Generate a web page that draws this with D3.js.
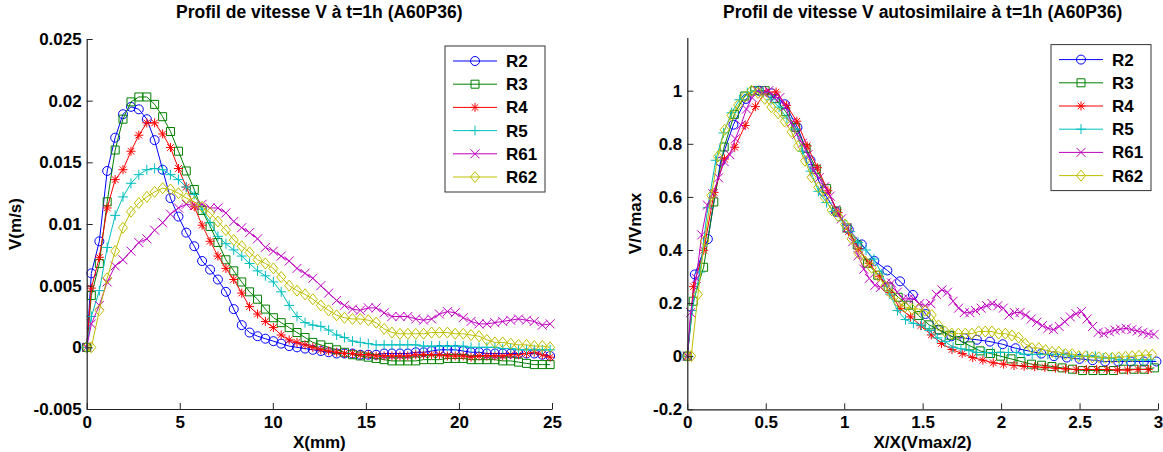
<!DOCTYPE html>
<html><head><meta charset="utf-8">
<script src="https://cdn.jsdelivr.net/npm/d3@7"></script>
<style>
html,body{margin:0;padding:0;background:#fff;}
svg{display:block;}
text{font-family:"Liberation Sans",Arial,Helvetica,sans-serif;font-weight:bold;fill:#000;}
</style></head><body>
<svg id="chart" width="1163" height="452"></svg>
<script>
// ---------- shared series description ----------
const seriesNames   = ["R2", "R3", "R4", "R5", "R61", "R62"];
const seriesColors  = ["#0000ff", "#008000", "#ff0000", "#00bfbf", "#bf00bf", "#bfbf00"];
const seriesMarkers = ["circle", "square", "star", "plus", "cross", "diamond"];

// ---------- left panel : V (m/s) vs X (mm) ----------
const leftTitle  = "Profil de vitesse V à t=1h (A60P36)";
const leftXLabel = "X(mm)";
const leftYLabel = "V(m/s)";
const leftXTicks = [0, 5, 10, 15, 20, 25];
const leftYTicks = [-0.005, 0, 0.005, 0.01, 0.015, 0.02, 0.025];

const xMm = [0,0.25,0.68,1.1,1.53,1.95,2.38,2.8,3.23,3.65,4.08,4.5,4.93,5.35,5.78,6.2,6.63,7.05,7.48,7.9,8.33,8.75,9.18,9.6,10.03,10.45,10.88,11.3,11.73,12.15,12.58,13.0,13.43,13.85,14.28,14.7,15.13,15.55,15.98,16.4,16.83,17.25,17.68,18.1,18.53,18.95,19.38,19.8,20.23,20.65,21.08,21.5,21.93,22.35,22.78,23.2,23.63,24.05,24.48,24.9];

const vR2 = [0,0.0060,0.0086,0.0143,0.0170,0.0189,0.0195,0.0193,0.0185,0.0168,
  0.0144,0.0121,0.0106,0.0093,0.0082,0.0070,0.0063,0.0055,0.0045,0.0031,
  0.0018,0.0012,0.0009,0.0007,0.0005,0.0003,0.0001,0,-0.0001,-0.0002,
  -0.0003,-0.0004,-0.0005,-0.0005,-0.0005,-0.0006,-0.0006,-0.0006,-0.0005,-0.0005,
  -0.0005,-0.0005,-0.0004,-0.0004,-0.0003,-0.0002,-0.0002,-0.0002,-0.0003,-0.0004,
  -0.0004,-0.0005,-0.0005,-0.0005,-0.0005,-0.0005,-0.0005,-0.0005,-0.0006,-0.0007];
const vR3 = [0,0.0042,0.0068,0.0118,0.0160,0.0185,0.0199,0.0203,0.0203,0.0197,
  0.0187,0.0175,0.0159,0.0143,0.0128,0.0111,0.0098,0.0085,0.0071,0.0062,
  0.0053,0.0045,0.0039,0.0031,0.0024,0.0020,0.0016,0.0012,0.0008,0.0004,
  0.0002,0,-0.0002,-0.0004,-0.0006,-0.0007,-0.0008,-0.0009,-0.0010,-0.0011,
  -0.0011,-0.0011,-0.0011,-0.0010,-0.0010,-0.0010,-0.0009,-0.0009,-0.0009,-0.0010,
  -0.0010,-0.0010,-0.0010,-0.0011,-0.0011,-0.0012,-0.0013,-0.0014,-0.0014,-0.0014];
const vR4 = [0,0.0048,0.0073,0.0113,0.0136,0.0144,0.0159,0.0172,0.0182,0.0182,
  0.0173,0.0162,0.0145,0.0130,0.0114,0.0099,0.0086,0.0074,0.0064,0.0055,
  0.0044,0.0033,0.0027,0.0021,0.0016,0.0010,0.0006,0.0004,0.0002,0,
  -0.0002,-0.0003,-0.0004,-0.0005,-0.0005,-0.0006,-0.0006,-0.0007,-0.0007,-0.0007,
  -0.0007,-0.0007,-0.0006,-0.0006,-0.0006,-0.0006,-0.0007,-0.0007,-0.0007,-0.0008,
  -0.0007,-0.0007,-0.0007,-0.0007,-0.0006,-0.0006,-0.0005,-0.0004,-0.0006,-0.0008];
const vR5 = [0,0.0025,0.0046,0.0081,0.0107,0.0122,0.0133,0.0140,0.0144,0.0145,
  0.0144,0.0140,0.0136,0.0130,0.0124,0.0112,0.0101,0.0090,0.0084,0.0079,
  0.0074,0.0068,0.0062,0.0058,0.0053,0.0045,0.0034,0.0025,0.0020,0.0018,
  0.0017,0.0014,0.0010,0.0008,0.0005,0.0004,0.0003,0.0002,0.0002,0.0002,
  0.0002,0.0002,0.0002,0.0001,0.0001,0.0001,0.0001,0.0001,0.0001,0,
  0,0,0,-0.0001,-0.0001,-0.0002,-0.0002,-0.0002,-0.0002,-0.0002];
const vR61 = [0,0.0019,0.0034,0.0053,0.0066,0.0071,0.0078,0.0085,0.0088,0.0095,
  0.0101,0.0108,0.0113,0.0116,0.0115,0.0116,0.0113,0.0113,0.0109,0.0102,
  0.0097,0.0093,0.0088,0.0081,0.0078,0.0074,0.0070,0.0064,0.0060,0.0056,
  0.0050,0.0044,0.0038,0.0034,0.0031,0.0030,0.0032,0.0032,0.0028,0.0025,
  0.0025,0.0025,0.0023,0.0022,0.0023,0.0027,0.0029,0.0028,0.0024,0.0021,
  0.0019,0.0019,0.0020,0.0021,0.0022,0.0023,0.0022,0.0021,0.0018,0.0019];
const vR62 = [0,0,0.0030,0.0056,0.0078,0.0097,0.0110,0.0117,0.0122,0.0126,
  0.0129,0.0128,0.0125,0.0121,0.0118,0.0114,0.0109,0.0102,0.0095,0.0087,
  0.0082,0.0077,0.0071,0.0068,0.0064,0.0057,0.0050,0.0046,0.0043,0.0039,
  0.0034,0.0030,0.0026,0.0024,0.0023,0.0023,0.0022,0.0020,0.0015,0.0012,
  0.0011,0.0011,0.0011,0.0011,0.0012,0.0012,0.0012,0.0011,0.0011,0.0010,
  0.0009,0.0006,0.0004,0.0004,0.0003,0.0002,0.0002,0.0001,0.0001,0];

// ---------- right panel : V/Vmax vs X/X(Vmax/2) ----------
const rightTitle  = "Profil de vitesse V autosimilaire à t=1h (A60P36)";
const rightXLabel = "X/X(Vmax/2)";
const rightYLabel = "V/Vmax";
const rightXTicks = [0, 0.5, 1, 1.5, 2, 2.5, 3];
const rightYTicks = [-0.2, 0, 0.2, 0.4, 0.6, 0.8, 1];

const nxR2 = [0,0.048,0.131,0.212,0.294,0.375,0.458,0.538,0.621,0.702,0.785,0.865,0.948,1.029,1.112,1.192,1.275,1.356,1.438,1.519,1.602,1.683,1.765,1.846,1.929,2.010,2.092,2.173,2.256,2.337,2.419,2.5,2.583,2.663,2.746,2.827,2.910,2.990];
const nyR2 = [0,0.308,0.441,0.733,0.872,0.969,1.0,0.990,0.949,0.862,0.738,0.621,0.544,0.477,0.421,0.359,0.323,0.282,0.231,0.159,0.100,0.075,0.068,0.062,0.055,0.045,0.030,0.020,0.010,0,-0.005,-0.010,-0.015,-0.020,-0.020,-0.020,-0.020,-0.020];
const nxR3 = [0,0.038,0.104,0.169,0.235,0.300,0.366,0.430,0.496,0.561,0.627,0.691,0.757,0.822,0.888,0.952,1.018,1.083,1.149,1.214,1.280,1.344,1.410,1.475,1.541,1.605,1.671,1.736,1.802,1.866,1.932,1.997,2.063,2.127,2.194,2.258,2.324,2.389,2.455,2.519,2.585,2.650,2.716,2.780,2.846,2.911,2.977];
const nyR3 = [0,0.207,0.335,0.581,0.788,0.911,0.980,1.0,1.0,0.970,0.921,0.862,0.783,0.704,0.631,0.547,0.483,0.419,0.350,0.305,0.261,0.222,0.192,0.153,0.118,0.099,0.079,0.059,0.039,0.020,0.010,0,-0.010,-0.020,-0.030,-0.034,-0.039,-0.044,-0.049,-0.054,-0.054,-0.054,-0.054,-0.049,-0.049,-0.049,-0.044];
const nxR4 = [0,0.039,0.105,0.171,0.237,0.302,0.369,0.434,0.501,0.566,0.633,0.698,0.764,0.829,0.896,0.961,1.028,1.093,1.160,1.225,1.291,1.357,1.423,1.488,1.555,1.620,1.687,1.752,1.819,1.884,1.950,2.016,2.082,2.147,2.214,2.279,2.346,2.411,2.478,2.543,2.609,2.674,2.741,2.806,2.873,2.938];
const nyR4 = [0,0.262,0.399,0.617,0.743,0.787,0.869,0.940,0.995,0.995,0.945,0.885,0.792,0.710,0.623,0.541,0.470,0.404,0.350,0.301,0.240,0.180,0.148,0.115,0.080,0.048,0.025,0.010,-0.005,-0.015,-0.025,-0.030,-0.035,-0.038,-0.040,-0.042,-0.045,-0.048,-0.050,-0.050,-0.050,-0.050,-0.052,-0.052,-0.050,-0.050];
const nxR5 = [0,0.030,0.081,0.130,0.181,0.231,0.282,0.332,0.383,0.433,0.484,0.534,0.585,0.635,0.686,0.735,0.786,0.836,0.887,0.937,0.988,1.038,1.089,1.139,1.190,1.240,1.291,1.340,1.391,1.441,1.492,1.542,1.593,1.643,1.694,1.744,1.795,1.845,1.896,1.945,1.996,2.046,2.097,2.147,2.198,2.248,2.298,2.349,2.400,2.450,2.501,2.551,2.601,2.651,2.702,2.752,2.803,2.853,2.904,2.954];
const nyR5 = [0,0.172,0.317,0.559,0.738,0.841,0.917,0.966,0.993,1.0,0.993,0.966,0.938,0.897,0.855,0.772,0.697,0.621,0.579,0.545,0.510,0.469,0.428,0.400,0.366,0.310,0.234,0.172,0.138,0.124,0.117,0.097,0.069,0.055,0.034,0.028,0.021,0.014,0.014,0.014,0.014,0.014,0.014,0.007,0.007,0.007,0.007,0.007,0.007,0,0,0,0,-0.007,-0.007,-0.014,-0.014,-0.014,-0.014,-0.014];
const nxR61 = [0,0.021,0.057,0.092,0.128,0.163,0.199,0.235,0.271,0.306,0.342,0.377,0.413,0.448,0.484,0.519,0.555,0.590,0.626,0.662,0.698,0.733,0.769,0.804,0.840,0.875,0.911,0.946,0.982,1.018,1.054,1.089,1.125,1.160,1.196,1.231,1.267,1.302,1.338,1.374,1.410,1.445,1.481,1.516,1.552,1.587,1.623,1.658,1.694,1.729,1.765,1.801,1.837,1.872,1.908,1.943,1.979,2.014,2.050,2.085,2.121,2.156,2.192,2.228,2.263,2.299,2.334,2.370,2.406,2.441,2.477,2.512,2.548,2.583,2.619,2.655,2.690,2.726,2.761,2.797,2.833,2.868,2.904,2.939,2.975];
const nyR61 = [0,0.164,0.293,0.457,0.569,0.612,0.672,0.733,0.759,0.819,0.871,0.931,0.974,1.0,0.991,1.0,0.974,0.974,0.940,0.879,0.836,0.802,0.759,0.698,0.672,0.638,0.603,0.552,0.517,0.483,0.431,0.379,0.328,0.293,0.267,0.259,0.276,0.276,0.241,0.216,0.216,0.216,0.198,0.190,0.198,0.233,0.250,0.241,0.207,0.181,0.164,0.164,0.172,0.181,0.190,0.198,0.190,0.181,0.155,0.164,0.165,0.155,0.140,0.128,0.115,0.105,0.100,0.112,0.130,0.148,0.160,0.168,0.140,0.112,0.090,0.085,0.092,0.098,0.102,0.105,0.100,0.095,0.090,0.084,0.082];
const nxR62 = [0,0.025,0.068,0.110,0.153,0.195,0.238,0.281,0.324,0.366,0.409,0.451,0.494,0.536,0.579,0.621,0.664,0.706,0.750,0.792,0.835,0.877,0.920,0.962,1.005,1.047,1.090,1.132,1.175,1.217,1.261,1.303,1.346,1.388,1.431,1.473,1.516,1.558,1.601,1.643,1.686,1.728,1.772,1.814,1.857,1.899,1.942,1.984,2.027,2.069,2.112,2.154,2.197,2.240,2.283,2.325,2.368,2.410,2.453,2.495,2.538,2.581,2.623,2.666,2.708,2.750,2.793,2.836,2.878,2.921,2.963];
const nyR62 = [0,0,0.233,0.434,0.605,0.752,0.853,0.907,0.946,0.977,1.0,0.992,0.969,0.938,0.915,0.884,0.845,0.791,0.736,0.674,0.636,0.597,0.550,0.527,0.496,0.442,0.388,0.357,0.333,0.302,0.264,0.233,0.202,0.186,0.178,0.178,0.171,0.155,0.116,0.093,0.085,0.085,0.085,0.085,0.093,0.093,0.093,0.085,0.085,0.078,0.070,0.047,0.031,0.031,0.023,0.016,0.016,0.008,0.008,0,0,-0.004,-0.004,-0.006,-0.006,-0.004,-0.002,0,0.002,0.004,0.006];

// ---------- drawing ----------
const svg = d3.select("#chart");
const FS = 17;
const FS_TITLE = 17.5;

const markerPaths = {
  square:  "M-4,-4H4V4H-4Z",
  star:    "M-4.5,0H4.5M0,-4.5V4.5M-3.3,-3.3L3.3,3.3M-3.3,3.3L3.3,-3.3",
  plus:    "M-5,0H5M0,-5V5",
  cross:   "M-4.5,-4.5L4.5,4.5M-4.5,4.5L4.5,-4.5",
  diamond: "M0,-5.5L4.5,0L0,5.5L-4.5,0Z"
};
function addMarker(sel, type, color) {
  if (type === "circle") {
    sel.append("circle").attr("r", 4.5).attr("fill", "none").attr("stroke", color).attr("stroke-width", 1);
  } else {
    sel.append("path").attr("d", markerPaths[type]).attr("fill", "none").attr("stroke", color).attr("stroke-width", 1);
  }
}
function fmt(v) { return String(+v.toFixed(4)); }

function drawPanel(p) {
  const x = d3.scaleLinear().domain(p.xDomain).range([p.left, p.right]);
  const y = d3.scaleLinear().domain(p.yDomain).range([p.bottom, p.top]);
  const g = svg.append("g");

  // series
  const line = d3.line().x(d => x(d[0])).y(d => y(d[1]));
  p.series.forEach((s, k) => {
    const pts = s.xs.map((xv, i) => [xv, s.ys[i]]);
    g.append("path").datum(pts).attr("d", line)
      .attr("fill", "none").attr("stroke", seriesColors[k]).attr("stroke-width", 1);
    const mg = g.append("g");
    pts.forEach(pt => {
      const m = mg.append("g").attr("transform", `translate(${x(pt[0])},${y(pt[1])})`);
      addMarker(m, seriesMarkers[k], seriesColors[k]);
    });
  });

  // axes
  const ax = g.append("g").attr("transform", `translate(0,${p.bottom})`)
    .call(d3.axisBottom(x).tickValues(p.xTicks).tickFormat(fmt).tickSizeInner(-6).tickSizeOuter(0).tickPadding(7));
  const ay = g.append("g").attr("transform", `translate(${p.left},0)`)
    .call(d3.axisLeft(y).tickValues(p.yTicks).tickFormat(fmt).tickSizeInner(-6).tickSizeOuter(0).tickPadding(5));
  [ax, ay].forEach(a => {
    a.select(".domain").attr("stroke", "#222").attr("stroke-width", 1.2);
    a.selectAll(".tick line").attr("stroke", "#222");
    a.selectAll(".tick text").attr("font-size", FS).attr("font-family", '"Liberation Sans",Arial,sans-serif').attr("font-weight", "bold").attr("fill", "#000");
  });
  ax.selectAll(".tick text").attr("dy", "0.71em");

  // texts
  const cx = (p.left + p.right) / 2;
  g.append("text").attr("x", cx).attr("y", 18).attr("text-anchor", "middle").attr("font-size", FS_TITLE).text(p.title);
  g.append("text").attr("x", cx).attr("y", 448).attr("text-anchor", "middle").attr("font-size", FS).text(p.xLabel);
  g.append("text").attr("transform", `translate(${p.yLabelX},${(p.top + p.bottom) / 2}) rotate(-90)`)
    .attr("text-anchor", "middle").attr("font-size", FS).text(p.yLabel);

  // legend
  const lx = p.right - 107, ly = p.top + 7, lw = 100, lh = 146;
  const lg = g.append("g");
  lg.append("rect").attr("x", lx).attr("y", ly).attr("width", lw).attr("height", lh)
    .attr("fill", "#fff").attr("stroke", "#333").attr("stroke-width", 1);
  seriesNames.forEach((name, k) => {
    const yy = ly + 15 + k * 23.2;
    lg.append("line").attr("x1", lx + 8).attr("x2", lx + 52).attr("y1", yy).attr("y2", yy)
      .attr("stroke", seriesColors[k]).attr("stroke-width", 1);
    const m = lg.append("g").attr("transform", `translate(${lx + 30},${yy})`);
    addMarker(m, seriesMarkers[k], seriesColors[k]);
    lg.append("text").attr("x", lx + 61).attr("y", yy + 6).attr("font-size", FS).text(name);
  });
}

drawPanel({
  left: 86.7, right: 552, top: 39, bottom: 409, yLabelX: 21,
  xDomain: [0, 25], yDomain: [-0.005, 0.025],
  xTicks: leftXTicks, yTicks: leftYTicks,
  title: leftTitle, xLabel: leftXLabel, yLabel: leftYLabel,
  series: [
    {xs: xMm, ys: vR2}, {xs: xMm, ys: vR3}, {xs: xMm, ys: vR4},
    {xs: xMm, ys: vR5}, {xs: xMm, ys: vR61}, {xs: xMm, ys: vR62}
  ]
});
drawPanel({
  left: 687.3, right: 1158, top: 37.6, bottom: 409.3, yLabelX: 641,
  xDomain: [0, 3], yDomain: [-0.2, 1.2],
  xTicks: rightXTicks, yTicks: rightYTicks,
  title: rightTitle, xLabel: rightXLabel, yLabel: rightYLabel,
  series: [
    {xs: nxR2, ys: nyR2}, {xs: nxR3, ys: nyR3}, {xs: nxR4, ys: nyR4},
    {xs: nxR5, ys: nyR5}, {xs: nxR61, ys: nyR61}, {xs: nxR62, ys: nyR62}
  ]
});
</script>
</body></html>
